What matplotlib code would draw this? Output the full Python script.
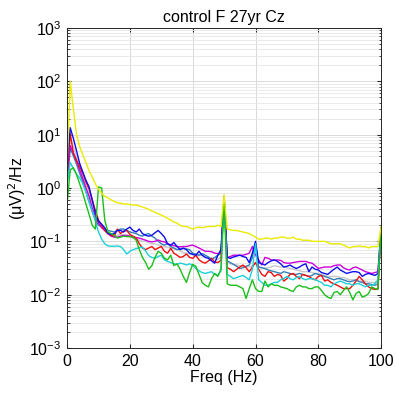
import numpy as np
import matplotlib
matplotlib.use("Agg")
from matplotlib import pyplot as plt
from matplotlib.ticker import LogLocator, NullFormatter

# power spectral density, one value per Hz from 0 to 100 Hz, in (uV)^2/Hz
freq = np.arange(0, 101)

yellow = [2.5, 100, 30, 10, 6, 4.2, 3.0, 2.1, 1.6, 1.2,
          0.95, 0.8, 0.7, 0.65, 0.6, 0.56, 0.53, 0.52, 0.5, 0.5,
          0.49, 0.48, 0.48, 0.46, 0.44, 0.42, 0.4, 0.37, 0.35, 0.33,
          0.31, 0.29, 0.27, 0.25, 0.23, 0.22, 0.2, 0.19, 0.19, 0.18,
          0.17, 0.18, 0.185, 0.18, 0.185, 0.19, 0.19, 0.19, 0.2, 0.19,
          0.75, 0.17, 0.165, 0.16, 0.16, 0.155, 0.15, 0.145, 0.14, 0.13,
          0.12, 0.11, 0.11, 0.115, 0.115, 0.11, 0.115, 0.115, 0.12, 0.12,
          0.115, 0.115, 0.12, 0.11, 0.11, 0.105, 0.105, 0.105, 0.1, 0.1,
          0.1, 0.1, 0.1, 0.095, 0.09, 0.09, 0.09, 0.09, 0.085, 0.08,
          0.075, 0.08, 0.08, 0.082, 0.08, 0.08, 0.075, 0.08, 0.08, 0.08,
          0.19]

green = [0.5, 2.2, 2.4, 1.8, 1.2, 0.8, 0.5, 0.32, 0.2, 0.17,
         1.05, 1.0, 0.25, 0.15, 0.14, 0.13, 0.115, 0.12, 0.125, 0.123,
         0.123, 0.12, 0.105, 0.07, 0.05, 0.04, 0.03, 0.035, 0.05, 0.065,
         0.06, 0.048, 0.045, 0.055, 0.035, 0.038, 0.03, 0.022, 0.017, 0.026,
         0.037, 0.034, 0.024, 0.017, 0.015, 0.014, 0.02, 0.025, 0.022, 0.03,
         0.62, 0.016, 0.015, 0.015, 0.015, 0.014, 0.013, 0.0085, 0.013, 0.019,
         0.013, 0.0115, 0.0115, 0.018, 0.014, 0.016, 0.015, 0.015, 0.014, 0.0135,
         0.013, 0.012, 0.0115, 0.014, 0.015, 0.014, 0.014, 0.013, 0.013, 0.014,
         0.014, 0.012, 0.01, 0.009, 0.0085, 0.011, 0.0115, 0.01, 0.012, 0.014,
         0.011, 0.008, 0.0105, 0.0115, 0.009, 0.0095, 0.0105, 0.014, 0.013, 0.0125,
         0.18]

cyan = [1.2, 3.0, 2.3, 1.8, 1.55, 1.2, 0.85, 0.55, 0.38, 0.24,
        0.15, 0.11, 0.09, 0.082, 0.081, 0.081, 0.082, 0.08, 0.07, 0.058,
        0.065, 0.07, 0.073, 0.076, 0.078, 0.066, 0.054, 0.05, 0.048, 0.052,
        0.055, 0.045, 0.042, 0.04, 0.038, 0.037, 0.039, 0.038, 0.036, 0.038,
        0.035, 0.031, 0.028, 0.026, 0.025, 0.026, 0.027, 0.024, 0.023, 0.028,
        0.6, 0.024, 0.022, 0.02, 0.021, 0.022, 0.023, 0.021, 0.019, 0.03,
        0.09, 0.019, 0.017, 0.015, 0.015, 0.016, 0.017, 0.017, 0.019, 0.02,
        0.022, 0.02, 0.019, 0.021, 0.022, 0.02, 0.019, 0.02, 0.02, 0.019,
        0.018, 0.017, 0.015, 0.015, 0.014, 0.016, 0.017, 0.018, 0.017, 0.016,
        0.016, 0.015, 0.016, 0.016, 0.015, 0.014, 0.015, 0.015, 0.016, 0.019,
        0.18]

red = [2.0, 10.5, 4.5, 3.3, 2.5, 1.9, 1.3, 0.95, 0.6, 0.38,
       0.25, 0.2, 0.16, 0.14, 0.13, 0.125, 0.17, 0.14, 0.155, 0.16,
       0.135, 0.125, 0.115, 0.09, 0.075, 0.07, 0.075, 0.08, 0.07, 0.075,
       0.08, 0.065, 0.06, 0.074, 0.06, 0.055, 0.05, 0.052, 0.058, 0.05,
       0.048, 0.055, 0.045, 0.041, 0.039, 0.043, 0.048, 0.041, 0.04, 0.044,
       0.65, 0.032, 0.03, 0.027, 0.03, 0.033, 0.036, 0.032, 0.027, 0.033,
       0.04, 0.03, 0.024, 0.022, 0.027, 0.026, 0.022, 0.024, 0.023, 0.018,
       0.02, 0.024, 0.025, 0.022, 0.02, 0.024, 0.023, 0.022, 0.02, 0.019,
       0.022, 0.023, 0.018, 0.019, 0.017, 0.016, 0.015, 0.014, 0.013, 0.013,
       0.013, 0.015, 0.018, 0.022, 0.019, 0.016, 0.014, 0.013, 0.0125, 0.013,
       0.18]

blue = [2.5, 13.5, 8.5, 5.0, 2.9, 2.0, 1.4, 1.05, 0.6, 0.33,
        0.24, 0.21, 0.18, 0.14, 0.135, 0.14, 0.16, 0.16, 0.15, 0.17,
        0.185, 0.16, 0.15, 0.17, 0.14, 0.13, 0.125, 0.13, 0.145, 0.16,
        0.14, 0.12, 0.09, 0.085, 0.095, 0.08, 0.07, 0.074, 0.07, 0.06,
        0.057, 0.055, 0.065, 0.055, 0.05, 0.048, 0.043, 0.039, 0.055, 0.07,
        0.68, 0.05, 0.048, 0.051, 0.053, 0.055, 0.052, 0.05, 0.04, 0.06,
        0.1, 0.04, 0.038, 0.036, 0.04, 0.043, 0.045, 0.042, 0.038, 0.033,
        0.034, 0.036, 0.033, 0.031, 0.033, 0.036, 0.038, 0.027, 0.033, 0.03,
        0.029, 0.026, 0.025, 0.024, 0.027, 0.03, 0.033, 0.029, 0.027, 0.025,
        0.026, 0.027, 0.027, 0.026, 0.022, 0.024, 0.025, 0.024, 0.023, 0.025,
        0.18]

magenta = [1.5, 6.3, 4.5, 3.2, 2.2, 1.5, 1.0, 0.7, 0.42, 0.3,
           0.22, 0.18, 0.16, 0.14, 0.125, 0.12, 0.12, 0.125, 0.13, 0.13,
           0.125, 0.12, 0.118, 0.115, 0.11, 0.105, 0.1, 0.098, 0.1, 0.106,
           0.1, 0.098, 0.09, 0.086, 0.083, 0.08, 0.079, 0.08, 0.08, 0.083,
           0.085, 0.08, 0.075, 0.07, 0.065, 0.065, 0.064, 0.06, 0.059, 0.06,
           0.6, 0.05, 0.052, 0.055, 0.055, 0.055, 0.055, 0.057, 0.06, 0.08,
           0.055, 0.045, 0.036, 0.05, 0.048, 0.045, 0.044, 0.045, 0.044, 0.04,
           0.039, 0.039, 0.04, 0.041, 0.042, 0.042, 0.042, 0.04, 0.039, 0.035,
           0.031, 0.032, 0.033, 0.033, 0.033, 0.035, 0.036, 0.036, 0.032, 0.03,
           0.029, 0.032, 0.033, 0.031, 0.029, 0.027, 0.026, 0.025, 0.026, 0.027,
           0.18]

steel = [1.2, 5.6, 4.0, 2.8, 1.9, 1.3, 0.85, 0.55, 0.36, 0.25,
         0.2, 0.19, 0.17, 0.16, 0.155, 0.15, 0.16, 0.17, 0.17, 0.16,
         0.15, 0.145, 0.14, 0.13, 0.125, 0.135, 0.14, 0.125, 0.115, 0.1,
         0.09, 0.085, 0.09, 0.08, 0.075, 0.07, 0.072, 0.075, 0.072, 0.07,
         0.06, 0.057, 0.055, 0.059, 0.055, 0.051, 0.046, 0.05, 0.055, 0.06,
         0.7, 0.043, 0.04, 0.037, 0.034, 0.031, 0.032, 0.034, 0.036, 0.05,
         0.092, 0.033, 0.032, 0.031, 0.029, 0.028, 0.027, 0.026, 0.025, 0.027,
         0.026, 0.025, 0.024, 0.024, 0.025, 0.024, 0.023, 0.022, 0.023, 0.025,
         0.024, 0.023, 0.022, 0.021, 0.02, 0.019, 0.02, 0.02, 0.019, 0.018,
         0.0175, 0.018, 0.019, 0.0175, 0.017, 0.016, 0.016, 0.0155, 0.015, 0.016,
         0.18]

gray = [1.8, 9.0, 6.0, 3.8, 2.6, 1.7, 1.1, 0.75, 0.5, 0.34,
        0.24, 0.19, 0.16, 0.145, 0.135, 0.13, 0.13, 0.135, 0.13, 0.125,
        0.12, 0.115, 0.11, 0.105, 0.1, 0.1, 0.095, 0.09, 0.09, 0.085,
        0.082, 0.08, 0.078, 0.075, 0.072, 0.07, 0.066, 0.062, 0.06, 0.058,
        0.056, 0.055, 0.054, 0.055, 0.052, 0.05, 0.048, 0.047, 0.046, 0.05,
        0.6, 0.04, 0.038, 0.037, 0.036, 0.035, 0.034, 0.034, 0.033, 0.035,
        0.04, 0.033, 0.032, 0.031, 0.032, 0.033, 0.035, 0.034, 0.033, 0.033,
        0.032, 0.031, 0.03, 0.029, 0.028, 0.027, 0.027, 0.027, 0.026, 0.025,
        0.025, 0.024, 0.023, 0.022, 0.022, 0.022, 0.022, 0.021, 0.021, 0.02,
        0.019, 0.019, 0.019, 0.018, 0.018, 0.018, 0.017, 0.017, 0.017, 0.018,
        0.18]

series = [
    (gray, (0.78, 0.78, 0.78)),
    (steel, (0.2, 0.5, 0.72)),
    (magenta, (0.8, 0.0, 0.85)),
    (red, (0.95, 0.05, 0.05)),
    (blue, (0.05, 0.05, 0.95)),
    (cyan, (0.1, 0.82, 0.85)),
    (green, (0.1, 0.75, 0.1)),
    (yellow, (0.92, 0.92, 0.0)),
]

plt.rcParams['font.family'] = ['Liberation Sans', 'DejaVu Sans']

fig = plt.figure(figsize=(3.97, 3.97), dpi=100)
ax = fig.add_axes([0.169, 0.1234, 0.791, 0.806])

for vals, col in series:
    ax.plot(freq, vals, color=col, linewidth=1.0)

ax.set_yscale('log')
ax.set_xlim(0, 100)
ax.set_ylim(1e-3, 1e3)
ax.set_xticks([0, 20, 40, 60, 80, 100])
ax.yaxis.set_major_locator(LogLocator(base=10, numticks=10))
ax.yaxis.set_minor_locator(LogLocator(base=10, subs=np.arange(2, 10), numticks=20))
ax.yaxis.set_minor_formatter(NullFormatter())

ax.grid(True, which='major', color=(0.85, 0.85, 0.85), linewidth=0.7)
ax.grid(True, which='minor', axis='y', color=(0.9, 0.9, 0.9), linewidth=0.6)
ax.set_axisbelow(True)

for s in ax.spines.values():
    s.set_color((0.15, 0.15, 0.15))
    s.set_linewidth(0.7)
ax.tick_params(which='both', direction='in', top=True, right=True,
               labelsize=11.5, colors=(0.15, 0.15, 0.15), labelcolor='black')
ax.tick_params(which='major', length=3, pad=4)
ax.tick_params(which='minor', length=1.8)

ax.set_xlabel('Freq (Hz)', fontsize=11.5, labelpad=1)
ax.set_ylabel('(μV)$^2$/Hz', fontsize=11.5, labelpad=1)
ax.set_title('control F 27yr Cz', fontsize=11.5, pad=4)

fig.savefig('out.png', dpi=100)
